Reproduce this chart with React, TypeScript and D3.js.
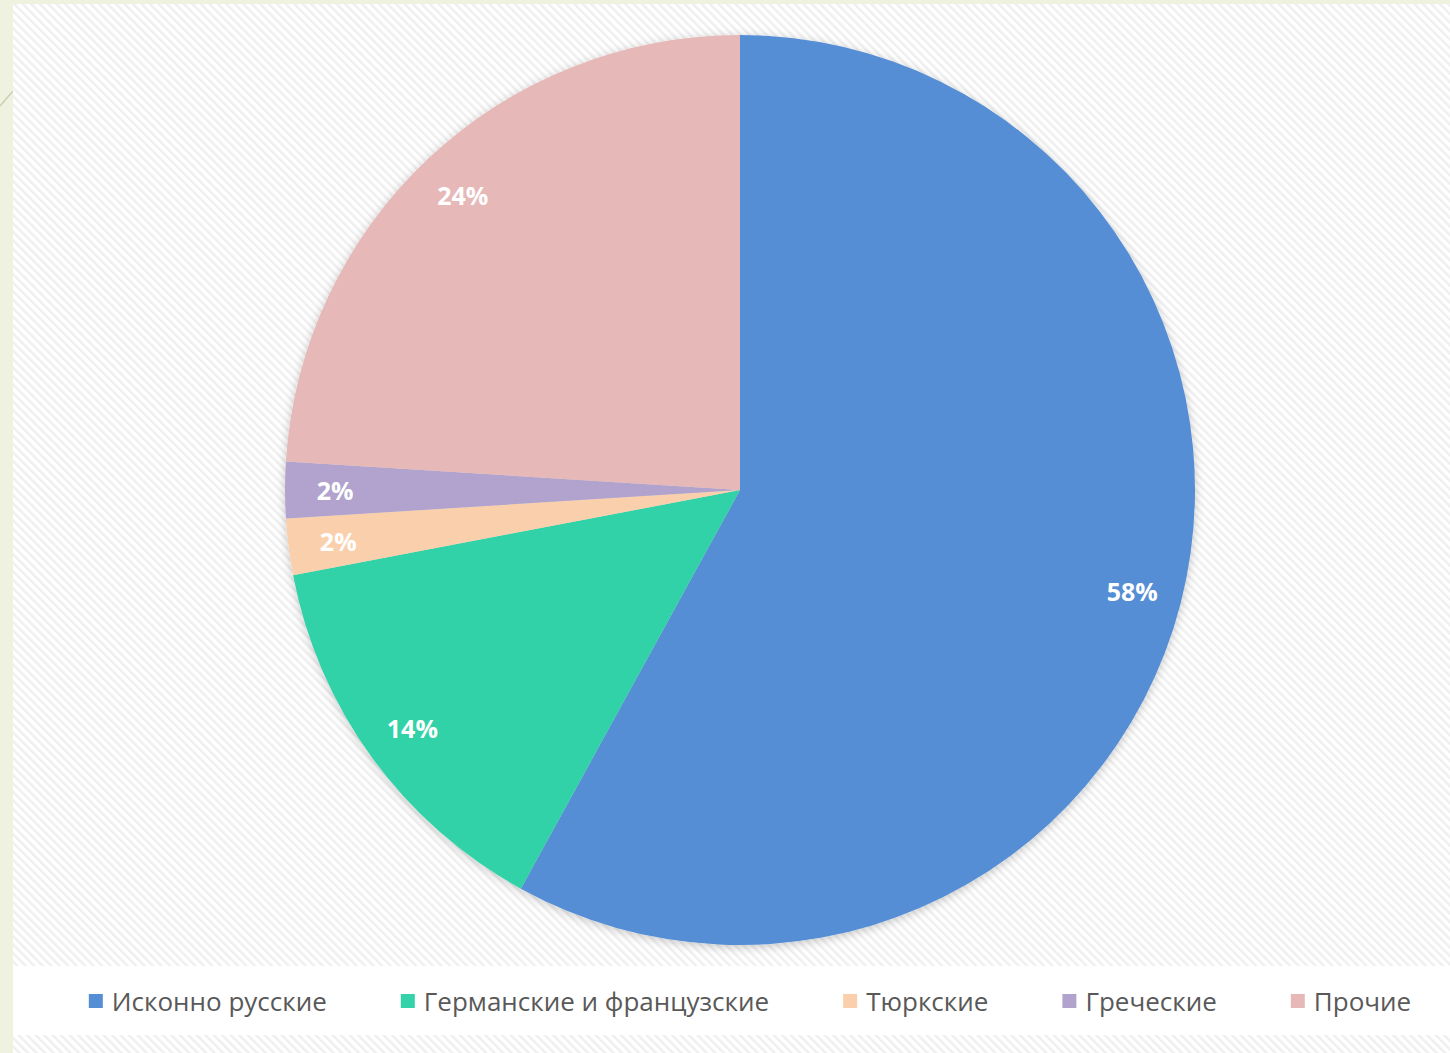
import React, { useEffect, useRef } from 'react';
import * as d3 from 'd3';

const categories = ['Исконно русские', 'Германские и французские', 'Тюркские', 'Греческие', 'Прочие'];
const values = [58, 14, 2, 2, 24];
const colors = ['#558ed5', '#33d2a8', '#fad0ac', '#b1a3cd', '#e6b8b7'];

export default function App() {
    const ref = useRef<SVGSVGElement | null>(null);
    useEffect(() => {
        document.body.style.margin = '0';
        const svg = d3.select(ref.current);
        svg.selectAll('*').remove();
        const width = 1450, height = 1053;
        const cx = 740, cy = 490, r = 455;
        svg.attr('width', width).attr('height', height).attr('viewBox', `0 0 ${width} ${height}`);

        const defs = svg.append('defs');
        const pat = defs.append('pattern').attr('id', 'hatch').attr('patternUnits', 'userSpaceOnUse')
            .attr('width', 6).attr('height', 6).attr('patternTransform', 'rotate(-45)');
        pat.append('rect').attr('width', 6).attr('height', 6).attr('fill', '#ffffff');
        pat.append('rect').attr('width', 2.5).attr('height', 6).attr('fill', '#efefef');
        const f = defs.append('filter').attr('id', 'shadow').attr('x', '-10%').attr('y', '-10%').attr('width', '120%').attr('height', '120%');
        f.append('feDropShadow').attr('dx', 0).attr('dy', 2).attr('stdDeviation', 5)
            .attr('flood-color', '#000').attr('flood-opacity', 0.22);

        // slide background and chart area
        svg.append('rect').attr('width', width).attr('height', height).attr('fill', '#eef2de');
        svg.append('line').attr('x1', 0).attr('y1', 106).attr('x2', 13).attr('y2', 91)
            .attr('stroke', '#c5cbb5').attr('stroke-width', 1.2);
        svg.append('rect').attr('x', 13).attr('y', 4).attr('width', width - 13).attr('height', height - 4)
            .attr('fill', 'url(#hatch)');
        svg.append('rect').attr('x', 13).attr('y', 966).attr('width', width - 13).attr('height', 69)
            .attr('fill', '#ffffff');

        const pie = d3.pie<number>().sort(null).value(d => d);
        const arcs = pie(values);
        const arc = d3.arc<d3.PieArcDatum<number>>().innerRadius(0).outerRadius(r);
        const labelArc = d3.arc<d3.PieArcDatum<number>>().innerRadius(r * 0.89).outerRadius(r * 0.89);

        const g = svg.append('g').attr('transform', `translate(${cx},${cy})`);
        g.append('g').attr('filter', 'url(#shadow)')
            .selectAll('path').data(arcs).join('path')
            .attr('d', arc)
            .attr('fill', (d, i) => colors[i]);

        g.selectAll('text').data(arcs).join('text')
            .attr('transform', d => `translate(${labelArc.centroid(d)})`)
            .attr('text-anchor', 'middle')
            .attr('dominant-baseline', 'central')
            .attr('font-family', '"Open Sans", sans-serif')
            .attr('font-weight', 700)
            .attr('font-size', 25)
            .attr('fill', '#ffffff')
            .text(d => `${d.data}%`);

        // legend
        const lg = svg.append('g');
        const items = lg.selectAll('g').data(categories).join('g');
        items.append('rect').attr('y', -7).attr('width', 14).attr('height', 14)
            .attr('fill', (d, i) => colors[i]);
        items.append('text').attr('x', 23).attr('dominant-baseline', 'central')
            .attr('font-family', '"Open Sans", sans-serif')
            .attr('font-size', 26)
            .attr('fill', '#595959')
            .text(d => d);
        const widths: number[] = [];
        items.each(function () {
            widths.push((this as SVGGElement).getBBox().width);
        });
        const gap = 74;
        const total = d3.sum(widths) + gap * (widths.length - 1);
        let x = 750 - total / 2;
        items.attr('transform', (d, i) => {
            const t = `translate(${x},1001)`;
            x += widths[i] + gap;
            return t;
        });
    }, []);
    return <svg ref={ref} style={{ display: 'block' }} />;
}
